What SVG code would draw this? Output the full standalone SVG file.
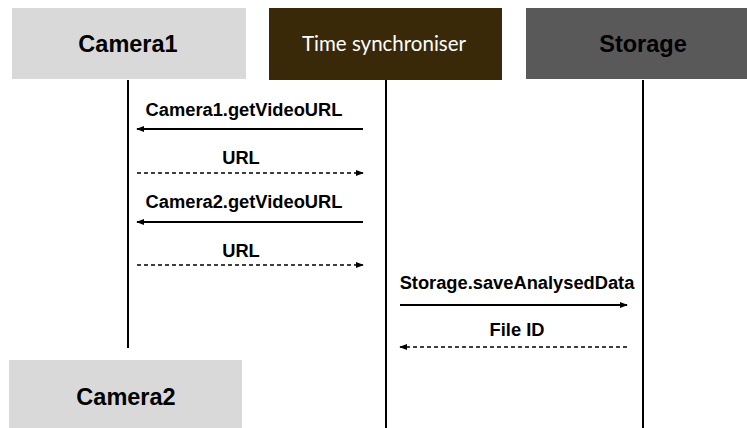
<svg xmlns="http://www.w3.org/2000/svg" width="747" height="428" viewBox="0 0 747 428">
<defs>
<style>
.hdr{font-family:"Liberation Sans",Arial,sans-serif;font-weight:bold;font-size:23.5px;text-anchor:middle}
.lbl{font-family:"Liberation Sans",Arial,sans-serif;font-weight:bold;font-size:18.3px;text-anchor:middle;fill:#000}
.life{stroke:#000;stroke-width:2;fill:none}
.msg{stroke:#000;stroke-width:2;fill:none}
.ret{stroke:#000;stroke-width:1.6;fill:none;stroke-dasharray:4 3}
</style>
<marker id="ah" viewBox="0 0 10 10" refX="9" refY="5" markerWidth="8" markerHeight="8" markerUnits="userSpaceOnUse" orient="auto">
<path d="M0,1 L10,5 L0,9 z" fill="#000"/>
</marker>
</defs>
<rect width="747" height="428" fill="#fff"/>
<g id="lifelines">
<line class="life" x1="128" y1="80" x2="128" y2="348"/>
<line class="life" x1="386" y1="80" x2="386" y2="428"/>
<line class="life" x1="643" y1="80" x2="643" y2="428"/>
</g>
<g id="camera1">
<rect x="12" y="8" width="234" height="71" fill="#d9d9d9"/>
<text class="hdr" x="128" y="52" fill="#000">Camera1</text>
</g>
<g id="timesync">
<rect x="269" y="8" width="233" height="72" fill="#3a2909"/>
<text x="384" y="51" fill="#fff" font-family="Lato,'Open Sans',sans-serif" font-size="20.5" text-anchor="middle">Time synchroniser</text>
</g>
<g id="storage">
<rect x="526" y="8" width="221" height="71" fill="#595959"/>
<text class="hdr" x="643" y="52" fill="#000">Storage</text>
</g>
<g id="camera2">
<rect x="9" y="360" width="233" height="68" fill="#d9d9d9"/>
<text class="hdr" x="126" y="405" fill="#000">Camera2</text>
</g>
<g id="connectors">
<line class="msg" x1="363" y1="129" x2="137" y2="129" marker-end="url(#ah)"/>
<text class="lbl" x="244" y="116">Camera1.getVideoURL</text>
<line class="ret" x1="137" y1="173" x2="363" y2="173" marker-end="url(#ah)"/>
<text class="lbl" x="241" y="164">URL</text>
<line class="msg" x1="363" y1="222" x2="137" y2="222" marker-end="url(#ah)"/>
<text class="lbl" x="244" y="208">Camera2.getVideoURL</text>
<line class="ret" x1="137" y1="265" x2="363" y2="265" marker-end="url(#ah)"/>
<text class="lbl" x="241" y="257">URL</text>
<line class="msg" x1="400" y1="305" x2="627" y2="305" marker-end="url(#ah)"/>
<text class="lbl" x="517" y="289">Storage.saveAnalysedData</text>
<line class="ret" x1="627" y1="347" x2="400" y2="347" marker-end="url(#ah)"/>
<text class="lbl" x="517" y="336">File ID</text>
</g>
</svg>
